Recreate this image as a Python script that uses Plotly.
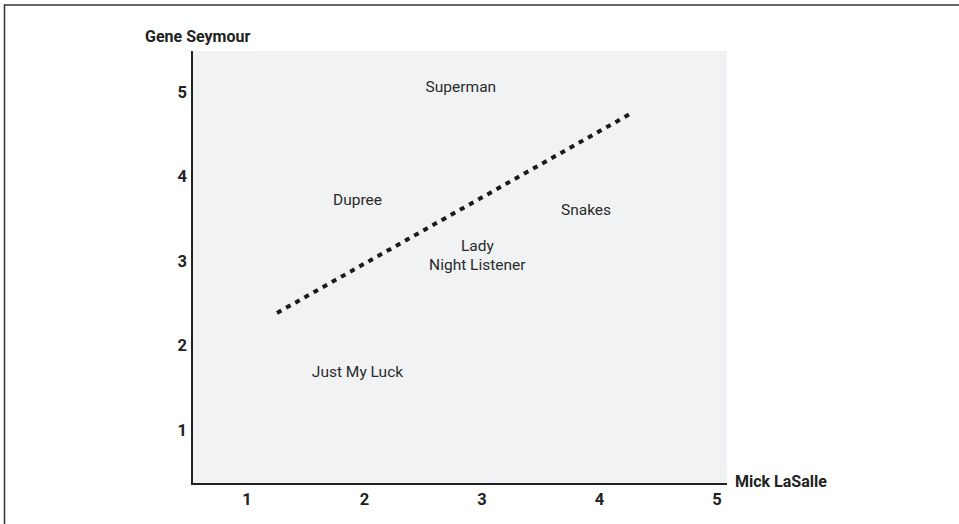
import plotly.graph_objects as go

# Label positions (Mick LaSalle on x, Gene Seymour on y)
movies = ["Superman", "Dupree", "Snakes", "Lady", "Night Listener", "Just My Luck"]
mick = [2.82, 1.94, 3.885, 2.96, 2.96, 1.94]
gene = [5.05, 3.71, 3.59, 3.17, 2.94, 1.67]

# Dotted trend line endpoints
line_x = [1.255, 4.26]
line_y = [2.385, 4.74]

tick_vals = [1, 2, 3, 4, 5]
tick_text = ["1", "2", "3", "4", "5"]

FONT = "Roboto, sans-serif"

fig = go.Figure()
fig.add_trace(go.Scatter(
    x=line_x, y=line_y, mode="lines",
    line=dict(color="#1a1a1a", width=4, dash="5px,5.5px"),
    hoverinfo="skip", showlegend=False,
))
fig.add_trace(go.Scatter(
    x=mick, y=gene, mode="text", text=movies,
    textposition="middle center",
    textfont=dict(family=FONT, size=15.5, color="#2b2b2b"),
    showlegend=False,
))

fig.update_layout(
    width=959, height=524,
    margin=dict(l=193, r=232, t=51, b=41),
    paper_bgcolor="white",
    plot_bgcolor="#f1f2f4",
    showlegend=False,
    xaxis=dict(range=[0.54, 5.085], tickvals=tick_vals, ticktext=tick_text,
               showgrid=False, zeroline=False, showline=True, linecolor="#222",
               linewidth=1.5, ticks="", ticklabelstandoff=0,
               tickfont=dict(family=FONT, size=16.5, color="#222", weight="bold")),
    yaxis=dict(range=[0.373, 5.485], tickvals=tick_vals, ticktext=tick_text,
               showgrid=False, zeroline=False, showline=True, linecolor="#222",
               linewidth=1.5, ticks="", ticklabelstandoff=1,
               tickfont=dict(family=FONT, size=16.5, color="#222", weight="bold")),
    annotations=[
        dict(text="<b>Gene Seymour</b>", xref="paper", yref="paper",
             x=(197 - 193) / 534, y=(483 - 37) / 432, xanchor="center", yanchor="middle",
             showarrow=False, font=dict(family=FONT, size=16, color="#222")),
        dict(text="<b>Mick LaSalle</b>", xref="paper", yref="paper",
             x=(733 - 193) / 534, y=(483 - 481) / 432, xanchor="left", yanchor="middle",
             showarrow=False, font=dict(family=FONT, size=16, color="#222")),
    ],
    shapes=[
        dict(type="rect", xref="paper", yref="paper",
             x0=(4.5 - 193) / 534, x1=(965 - 193) / 534,
             y0=(483 - 535) / 432, y1=(483 - 5) / 432,
             line=dict(color="#333", width=1.5), fillcolor="rgba(0,0,0,0)", layer="above"),
    ],
)

fig.write_html("out.html", config={"displayModeBar": False},
               post_script="document.body.style.margin='0';")
